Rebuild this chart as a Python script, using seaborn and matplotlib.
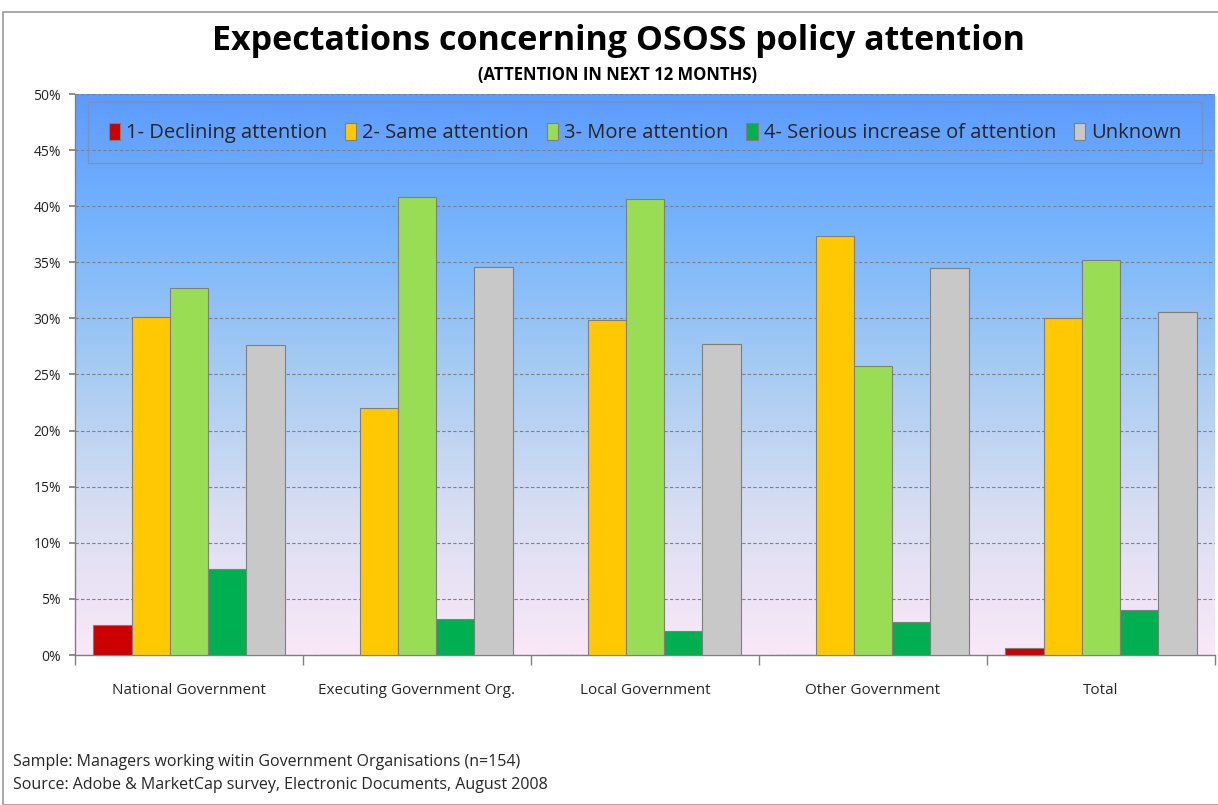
import numpy as np
import pandas as pd
import matplotlib
matplotlib.use("Agg")
import matplotlib.pyplot as plt
from matplotlib.patches import Rectangle
from matplotlib.ticker import MultipleLocator, FuncFormatter
import seaborn as sns

categories = ["National Government", "Executing Government Org.", "Local Government",
              "Other Government", "Total"]
series = ["1- Declining attention", "2- Same attention", "3- More attention",
          "4- Serious increase of attention", "Unknown"]
declining = [2.7, 0.0, 0.0, 0.0, 0.6]
same = [30.1, 22.0, 29.9, 37.3, 30.0]
more = [32.7, 40.8, 40.6, 25.8, 35.2]
serious = [7.7, 3.2, 2.1, 2.9, 4.0]
unknown = [27.6, 34.6, 27.7, 34.5, 30.6]
colors = ["#CC0000", "#FFC800", "#99DD55", "#00B050", "#C8C8C8"]

title = "Expectations concerning OSOSS policy attention"
subtitle = "(ATTENTION IN NEXT 12 MONTHS)"
footer1 = "Sample: Managers working witin Government Organisations (n=154)"
footer2 = "Source: Adobe & MarketCap survey, Electronic Documents, August 2008"

rows = []
for s, vals in zip(series, [declining, same, more, serious, unknown]):
    for c, v in zip(categories, vals):
        rows.append({"category": c, "series": s, "value": v})
df = pd.DataFrame(rows)

sns.set_theme(style="white")
plt.rcParams["font.family"] = ["Open Sans", "DejaVu Sans"]

W, H = 1218, 805
fig = plt.figure(figsize=(W / 100, H / 100), dpi=100)
fig.patch.set_facecolor("white")

left, right, top, bottom = 75, 1215, 94, 655
ax = fig.add_axes([left / W, 1 - bottom / H, (right - left) / W, (bottom - top) / H])

# gradient background
grad_colors = np.array([
    [0.36, 0.61, 1.00],
    [0.47, 0.71, 0.99],
    [0.66, 0.80, 0.95],
    [0.85, 0.87, 0.95],
    [0.98, 0.91, 0.97],
])
n = 256
t = np.linspace(0, 1, len(grad_colors))
tt = np.linspace(0, 1, n)
img = np.stack([np.interp(tt, t, grad_colors[:, k]) for k in range(3)], axis=1)
ax.imshow(img[:, None, :], extent=[0, 1, 0, 1], transform=ax.transAxes,
          aspect="auto", zorder=0, interpolation="bicubic")

sns.barplot(data=df, x="category", y="value", hue="series", palette=colors,
            width=0.84, ax=ax, edgecolor="#7f7f7f", linewidth=0.8, saturation=1,
            zorder=3, legend=True)

ax.set_ylim(0, 50)
ax.set_xlim(-0.5, 4.5)
ax.yaxis.set_major_locator(MultipleLocator(5))
ax.yaxis.set_major_formatter(FuncFormatter(lambda v, p: f"{int(v)}%"))
ax.grid(axis="y", linestyle=(0, (3, 2)), color="#808080", linewidth=0.8, zorder=1)
ax.set_axisbelow(True)
ax.set_xlabel("")
ax.set_ylabel("")
for s in ["top", "right"]:
    ax.spines[s].set_visible(False)
ax.spines["left"].set_color("#808080")
ax.spines["bottom"].set_color("#808080")
ax.spines["left"].set_linewidth(1)
ax.spines["bottom"].set_linewidth(1)
ax.tick_params(axis="y", length=4, color="#808080", labelsize=10, pad=6, left=True)
ax.tick_params(axis="x", length=0, labelsize=11, pad=20)
# category boundary ticks
ax.set_xticks(np.arange(-0.5, 5.0, 1.0), minor=True)
ax.tick_params(axis="x", which="minor", length=7, color="#808080", bottom=True)
for lbl in ax.get_yticklabels():
    lbl.set_color("#222222")

leg = ax.legend(loc="upper center", bbox_to_anchor=(0.5, 0.985), ncol=5, frameon=True,
                fontsize=14.5, handlelength=0.55, handleheight=0.95, handletextpad=0.3,
                columnspacing=0.9, borderpad=1.0, borderaxespad=0.0, fancybox=False)
leg.get_frame().set_facecolor("none")
leg.get_frame().set_edgecolor("#7f8fa8")
leg.get_frame().set_linewidth(1.0)

fig.text(618 / W, 1 - 41 / H, title, ha="center", va="center", fontsize=24.5,
         fontweight="bold", color="black")
fig.text(618 / W, 1 - 75 / H, subtitle, ha="center", va="center", fontsize=12,
         fontweight="bold", color="black")
fig.text(13 / W, 1 - 762 / H, footer1, ha="left", va="center", fontsize=11.5)
fig.text(13 / W, 1 - 785 / H, footer2, ha="left", va="center", fontsize=11.5)

fig.patches.append(Rectangle((3 / W, 0), 1.2, 1 - 12 / H, transform=fig.transFigure,
                             fill=False, edgecolor="#999999", linewidth=1.2))

fig.savefig("out.png", dpi=100)
